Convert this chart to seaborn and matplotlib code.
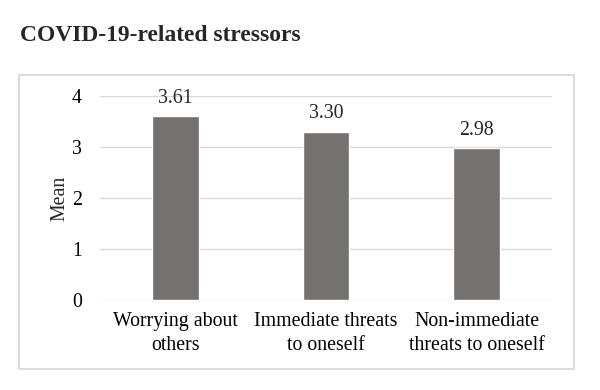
import pandas as pd
import matplotlib.pyplot as plt
import seaborn as sns
from matplotlib.patches import Rectangle

categories = ["Worrying about\nothers", "Immediate threats\nto oneself", "Non-immediate\nthreats to oneself"]
means = [3.61, 3.30, 2.98]

df = pd.DataFrame({"category": categories, "mean": means})

sns.set_theme(style="white")
plt.rcParams["font.family"] = ["Liberation Serif", "DejaVu Serif"]

fig = plt.figure(figsize=(6, 3.9), dpi=100)
ax = fig.add_axes([0.1667, 0.2308, 0.7533, 0.523])

sns.barplot(data=df, x="category", y="mean", color="#767171", saturation=1,
            width=0.31, ax=ax)

ax.set_ylim(0, 4)
ax.set_yticks([0, 1, 2, 3, 4])
ax.yaxis.grid(True, color="#D9D9D9", linewidth=1)
ax.set_axisbelow(True)
for s in ax.spines.values():
    s.set_visible(False)
ax.tick_params(axis="both", length=0, labelsize=14.3, colors="black")
ax.tick_params(axis="y", pad=13)
ax.tick_params(axis="x", pad=9)
for lbl in ax.get_xticklabels():
    lbl.set_linespacing(1.3)
ax.set_xlabel("")
ax.set_ylabel("Mean", fontsize=14.3, labelpad=2)

for c in ax.containers:
    ax.bar_label(c, fmt="%.2f", padding=6, fontsize=14.3)

# outer chart border
fig.patches.append(Rectangle((0.0317, 0.0538), 0.925, 0.754, transform=fig.transFigure,
                             fill=False, edgecolor="#D9D9D9", linewidth=1.3))

fig.text(0.033, 0.908, "COVID-19-related stressors", fontsize=16.9, fontweight="bold",
         ha="left", va="center")

fig.savefig("out.png", dpi=100)
